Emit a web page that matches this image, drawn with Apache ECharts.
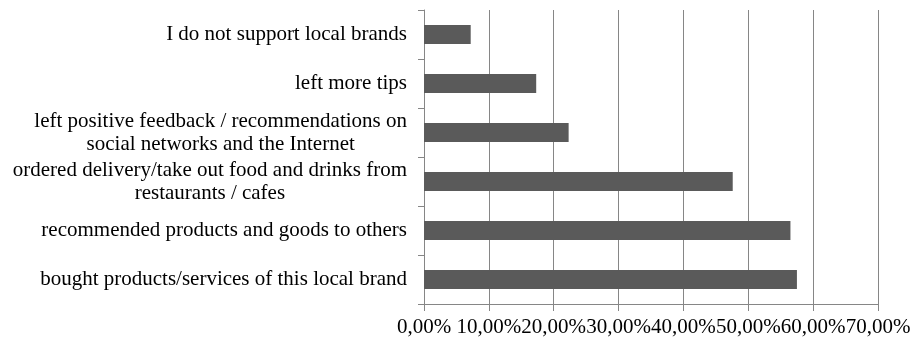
<!DOCTYPE html>
<html>
<head>
<meta charset="utf-8">
<script src="https://cdn.jsdelivr.net/npm/echarts@6/dist/echarts.min.js"></script>
<style>html,body{margin:0;padding:0;background:#fff}#c{width:918px;height:342px}</style>
</head>
<body>
<div id="c"></div>
<script>
const categories = [
  'I do not support local brands',
  'left more tips',
  'left positive feedback / recommendations on\nsocial networks and the Internet',
  'ordered delivery/take out food and drinks from\nrestaurants / cafes',
  'recommended products and goods to others',
  'bought products/services of this local brand'
];
const values = [7.2, 17.3, 22.3, 47.6, 56.5, 57.5];
const xTicks = { min: 0, max: 70, interval: 10 };

const chart = echarts.init(document.getElementById('c'));
const gray = '#868686';
chart.setOption({
  animation: false,
  grid: { left: 424, right: 40, top: 10, bottom: 38, containLabel: false },
  xAxis: {
    type: 'value', min: xTicks.min, max: xTicks.max, interval: xTicks.interval,
    axisLine: { show: true, lineStyle: { color: gray, width: 1 } },
    axisTick: { show: true, length: 7, lineStyle: { color: gray } },
    splitLine: { show: true, lineStyle: { color: gray, width: 1 } },
    axisLabel: {
      margin: 13, color: '#000', fontFamily: 'Liberation Serif', fontSize: 21,
      hideOverlap: false,
      formatter: v => v.toFixed(2).replace('.', ',') + '%'
    }
  },
  yAxis: {
    type: 'category', data: categories, inverse: true,
    axisLine: { show: true, lineStyle: { color: gray, width: 1 } },
    axisTick: { show: true, length: 6, lineStyle: { color: gray } },
    axisLabel: {
      margin: 17, color: '#000', fontFamily: 'Liberation Serif', fontSize: 21,
      align: 'right', lineHeight: 23, interval: 0,
      formatter: v => v.split('\n').map(s => '{c|' + s + '}').join('\n'),
      rich: { c: { align: 'center', fontFamily: 'Liberation Serif', fontSize: 21, lineHeight: 23, color: '#000' } }
    }
  },
  series: [{
    type: 'bar', data: values, barWidth: 19,
    itemStyle: { color: '#5a5a5a' }
  }]
});
</script>
</body>
</html>
